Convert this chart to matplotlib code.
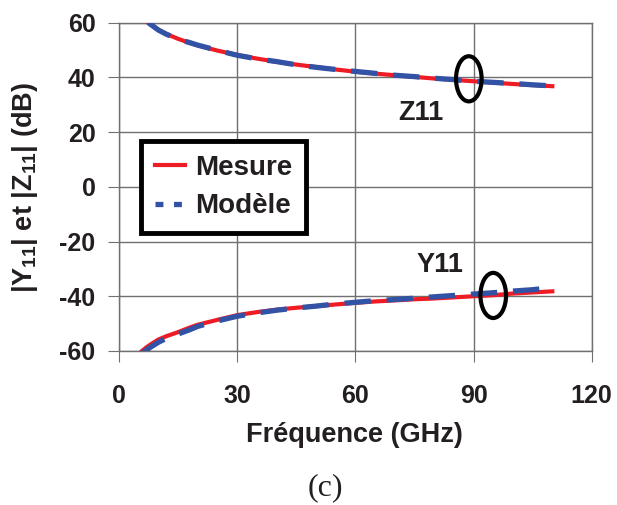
import matplotlib
matplotlib.use("Agg")
import matplotlib.pyplot as plt
from matplotlib.lines import Line2D
from matplotlib.patches import Ellipse

plt.rcParams["font.family"] = ["Liberation Sans", "DejaVu Sans"]
plt.rcParams["font.weight"] = "bold"
plt.rcParams["mathtext.fontset"] = "custom"
plt.rcParams["mathtext.rm"] = "Liberation Sans:bold"
plt.rcParams["mathtext.default"] = "rm"
plt.rcParams["axes.unicode_minus"] = False

# values (GHz, dB)
freq_z = [7.3, 8, 10, 12, 15, 18, 20, 25, 30, 35, 40, 45, 50, 55, 60, 65, 70, 75,
          80, 85, 90, 95, 100, 105, 110]
z11_mesure = [60.2, 59.5, 57.4, 55.9, 54.1, 52.6, 51.7, 49.8, 48.2, 46.9, 45.7, 44.7,
              43.8, 42.9, 42.1, 41.4, 40.8, 40.2, 39.6, 39.1, 38.6, 38.1, 37.6, 37.2, 36.8]
z11_modele = [60.2, 59.4, 57.3, 55.8, 54.0, 52.7, 51.8, 49.9, 48.1, 46.8, 45.8, 44.6,
              43.7, 42.9, 42.2, 41.5, 40.8, 40.3, 39.7, 39.2, 38.6, 38.2, 37.8, 37.3, 36.9]

freq_y = [5.8, 7, 8, 10, 12, 15, 18, 20, 25, 30, 35, 40, 45, 50, 55, 60, 65, 70, 75,
          80, 85, 90, 95, 100, 105, 110]
y11_mesure = [-60.0, -58.6, -57.6, -55.8, -54.6, -53.1, -51.4, -50.4, -48.6, -46.9,
              -45.8, -44.9, -44.2, -43.6, -43.0, -42.4, -41.9, -41.5, -41.1, -40.8,
              -40.4, -40.0, -39.6, -39.0, -38.6, -38.2]
y11_modele = [-60.8, -59.6, -58.6, -56.8, -55.4, -53.8, -52.2, -51.0, -49.0, -47.3,
              -46.1, -45.1, -44.3, -43.6, -42.8, -42.2, -41.6, -41.2, -40.7, -40.2,
              -39.7, -39.2, -38.7, -38.1, -37.6, -36.8]

x_ticks = [0, 30, 60, 90, 120]
y_ticks = [-60, -40, -20, 0, 20, 40, 60]

RED = "#ee1c25"
BLUE = "#3253a5"
INK = "#231f20"

fig = plt.figure(figsize=(6.17, 5.05), dpi=100)
ax = fig.add_axes([0.193, 0.305, 0.766, 0.65])

ax.plot(freq_z, z11_mesure, color=RED, lw=3, zorder=3)
ax.plot(freq_z, z11_modele, color=BLUE, lw=3.8, dashes=(5, 3), zorder=4)
ax.plot(freq_y, y11_mesure, color=RED, lw=3, zorder=3)
ax.plot(freq_y, y11_modele, color=BLUE, lw=3.8, dashes=(5, 3), zorder=4)

ax.set_xlim(0, 120)
ax.set_ylim(-60, 60)
ax.set_xticks(x_ticks)
ax.set_yticks(y_ticks)
ax.grid(True, color="#707070", lw=1)
ax.set_axisbelow(True)
for side in ax.spines.values():
    side.set_color("#707070")
    side.set_linewidth(1)
ax.tick_params(direction="out", length=8, color="#707070", labelsize=18, labelcolor=INK)
ax.tick_params(axis="x", pad=16)
ax.tick_params(axis="y", pad=9)
for lbl in ax.get_xticklabels() + ax.get_yticklabels():
    lbl.set_fontweight("bold")

ax.set_xlabel("Fréquence (GHz)", fontsize=19.5, fontweight="bold", color=INK)
ax.set_ylabel("|Y$_{11}$| et |Z$_{11}$| (dB)", fontsize=19.5, fontweight="bold", color=INK)
ax.xaxis.set_label_coords(0.497, -0.215)
ax.yaxis.set_label_coords(-0.168, 0.497)

handles = [
    Line2D([], [], color=RED, lw=3),
    Line2D([], [], color=BLUE, lw=3.8, dashes=(1.5, 2.0)),
]
leg = ax.legend(handles, ["Mesure", "Modèle"], loc="upper left",
                bbox_to_anchor=(0.046, 0.640), fontsize=20, frameon=True,
                fancybox=False, handlelength=1.1, handletextpad=0.35,
                borderpad=0.5, labelspacing=0.45, borderaxespad=0)
leg.get_frame().set_edgecolor("black")
leg.get_frame().set_linewidth(3.5)
leg.get_frame().set_alpha(1)
for t in leg.get_texts():
    t.set_fontweight("bold")
    t.set_color(INK)

ax.text(70.8, 27.0, "Z11", fontsize=19.5, fontweight="bold", color=INK, ha="left", va="center")
ax.text(75.6, -28.4, "Y11", fontsize=19.5, fontweight="bold", color=INK, ha="left", va="center")
ax.add_patch(Ellipse((88.8, 39.5), 6.5, 16.5, fill=False, ec="black", lw=3, zorder=5))
ax.add_patch(Ellipse((95.0, -39.7), 6.5, 16.5, fill=False, ec="black", lw=3, zorder=5))

fig.text(0.527, 0.034, "(c)", fontsize=23, family="Liberation Serif", fontweight="normal",
         ha="center", va="center", color=INK)

fig.savefig("out.png", dpi=100)
